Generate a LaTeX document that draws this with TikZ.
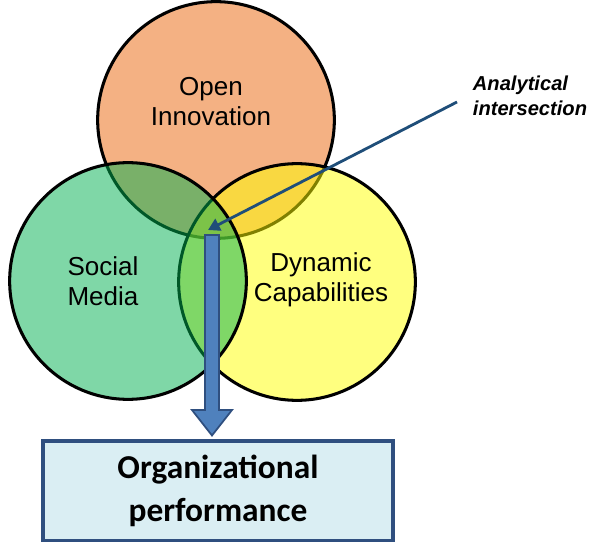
\documentclass[tikz,border=0pt]{standalone}
\usepackage{fontspec}
\setmainfont{Liberation Sans}
\newfontfamily\boxfont{Carlito}
\usetikzlibrary{arrows.meta, calc}

\definecolor{innovorange}{HTML}{F4B183}
\definecolor{mediagreen}{HTML}{00B050}
\definecolor{capyellow}{HTML}{FFFF00}
\definecolor{arrowblue}{HTML}{4F81BD}
\definecolor{arrowedge}{HTML}{2F4F7F}
\definecolor{pointerblue}{HTML}{1F4E79}
\definecolor{perfbox}{HTML}{DAEEF3}

\begin{document}
\begin{tikzpicture}[x=0.03cm, y=-0.03cm,
    set/.style={circle, draw=black, line width=2.6pt, minimum size=7.1cm, inner sep=0pt},
    setlabel/.style={align=center, font=\fontsize{22.2}{25.6}\selectfont}]
    \useasboundingbox (0,0) rectangle (594,542);

    % the three sets, back to front
    \node[set, fill=innovorange] (innov) at (216,120) {};
    \node[set, fill=capyellow, fill opacity=0.5] (dyncap) at (297,282) {};
    \node[set, fill=mediagreen, fill opacity=0.5] (social) at (128,281) {};

    \node[setlabel] (innovtxt) at (211,102) {Open\\Innovation};
    \node[setlabel] (socialtxt) at (103,281) {Social\\Media};
    \node[setlabel] (dyncaptxt) at (321,280) {Dynamic\\Capabilities};

    % outcome box
    \node[draw=arrowedge, line width=2.6pt, fill=perfbox, minimum width=10.5cm, minimum height=3cm,
          align=center, font=\boxfont\bfseries\fontsize{28.5}{37}\selectfont] (perf) at (218,491)
          {Organizational\\performance};

    % where the three sets meet
    \coordinate (lens) at (212,235);

    % block arrow down to the box
    \draw[fill=arrowblue, draw=arrowedge, line width=1.5pt, line join=miter]
        ($(lens)+(-7,0)$) -- ($(lens)+(7,0)$) -- ($(lens)+(7,175)$) -- ($(lens)+(20,175)$)
        -- ($(perf.north)+(-6,-4)$) -- ($(lens)+(-20,175)$) -- ($(lens)+(-7,175)$) -- cycle;

    % pointer to the intersection
    \node[font=\bfseries\itshape\fontsize{17.2}{21.5}\selectfont, align=left] (note) at (530,96)
        {Analytical\\intersection};
    \coordinate (from) at (457,102);
    \draw[pointerblue, line width=2.4pt, -{Triangle[length=10pt, width=11pt]}]
        (from) -- ($(lens)+(-4,-5)$);
\end{tikzpicture}
\end{document}
